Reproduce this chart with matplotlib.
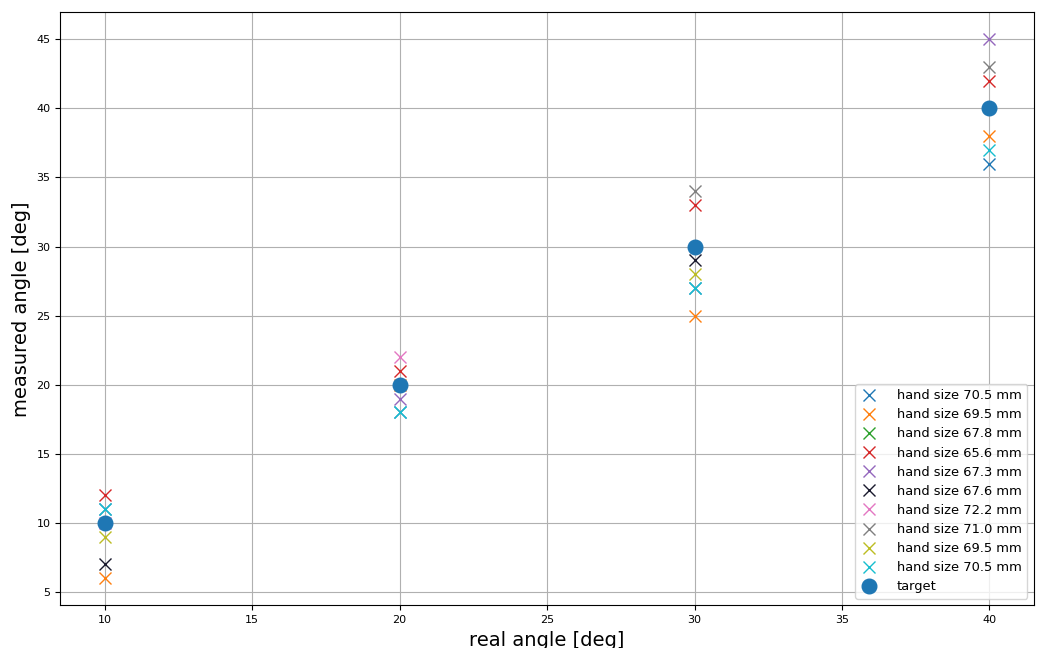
import numpy as np
import matplotlib
matplotlib.use("Agg")
import matplotlib.pyplot as plt

real = [10, 20, 30, 40]
target = [10, 20, 30, 40]

labels = ["hand size 70.5 mm", "hand size 69.5 mm", "hand size 67.8 mm",
          "hand size 65.6 mm", "hand size 67.3 mm", "hand size 67.6 mm",
          "hand size 72.2 mm", "hand size 71.0 mm", "hand size 69.5 mm",
          "hand size 70.5 mm"]

nan = np.nan
# values not visible in the picture are left out (nan)
measured = [
    [11, 18, 27, 36],
    [6, 20, 25, 38],
    [nan, nan, nan, nan],
    [12, 21, 33, 42],
    [nan, 19, nan, 45],
    [7, nan, 29, nan],
    [10, 22, nan, nan],
    [nan, nan, 34, 43],
    [9, nan, 28, nan],
    [11, 18, 27, 37],
]

colors = ["C0", "C1", "C2", "C3", "C4", "#1a1a2e", "C6", "C7", "C8", "C9"]

plt.figure(figsize=(10.41, 6.48), dpi=100)
for m, lab, c in zip(measured, labels, colors):
    plt.plot(real, m, "x", color=c, markersize=8.5, label=lab)
plt.plot(real, target, "o", color="C0", markersize=10.5, label="target")

plt.xlabel("real angle [deg]", fontsize=14)
plt.ylabel("measured angle [deg]", fontsize=14)
plt.xticks(fontsize=8)
plt.yticks(fontsize=8)
plt.grid(True)
plt.legend(loc="lower right", fontsize=9.4, handlelength=1.3, handletextpad=1.5,
           labelspacing=0.47)
plt.subplots_adjust(left=0.058, right=0.993, top=0.981, bottom=0.066)
plt.savefig("out.png")
